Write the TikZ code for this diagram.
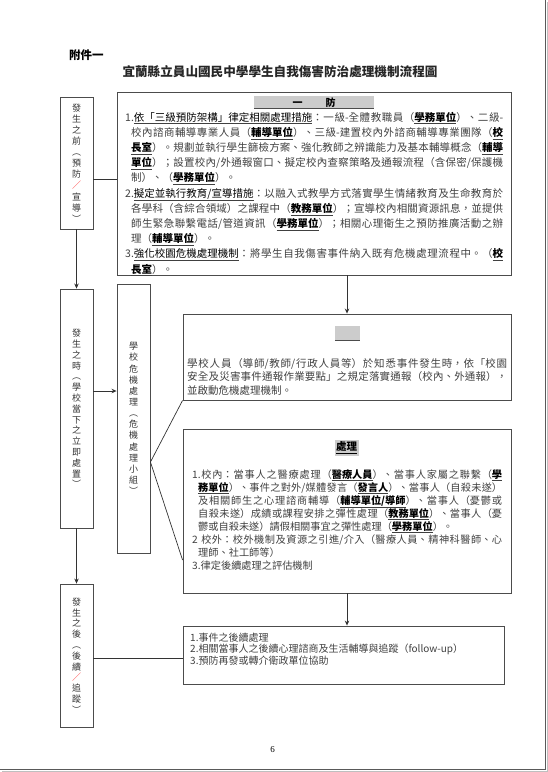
\documentclass[tikz,border=0pt]{standalone}
\usepackage{fontspec}
\setmainfont{Noto Sans CJK TC}
\newfontfamily\serifnum{Liberation Serif}
\usetikzlibrary{arrows.meta}
\XeTeXlinebreaklocale "zh"
\XeTeXlinebreakskip=0pt plus 2pt minus 0.3pt
\XeTeXlinebreakpenalty=10000
\tolerance=10000
\hbadness=10000
\newcommand{\ubd}[1]{\underline{\textbf{\color{black}#1}}}
\newcommand{\uln}[1]{\underline{\color{black}#1}}
\tikzset{
  box/.style={draw=black!70, line width=0.9pt, inner sep=0pt},
  side/.style={draw=black!70, line width=0.9pt, minimum width=33pt, inner sep=0pt, align=center, text=black!80},
  bodytxt/.style={anchor=north west, inner sep=0pt, text=black!75,
    execute at begin node={\parindent=0pt\leftskip=0pt\rightskip=0pt\parfillskip=0pt plus 1fil}},
  conn/.style={draw=black!80, line width=0.7pt},
  arr/.style={conn, -{Stealth[length=5pt,width=4.5pt]}},
  graybar/.style={fill=black!20, inner sep=0pt},
}
\begin{document}
\begin{tikzpicture}[x=1pt,y=-1pt]
\useasboundingbox (0,0) rectangle (547,772);
% page shadow
\draw[black!25, line width=1pt] (547,2) -- (547,771.2) -- (2,771.2);
\draw[black!65, line width=1.5pt] (545.5,0) -- (545.5,769.5) -- (0,769.5);

% header
\node[anchor=west, inner sep=0pt, font=\fontsize{11.5}{12}\selectfont\bfseries] (att) at (69,55) {附件一};
\node[inner sep=0pt, text=black!85, font=\fontsize{12.6}{14}\selectfont\bfseries] (title) at (280,72) {宜蘭縣立員山國民中學學生自我傷害防治處理機制流程圖};

% box 1
\node[box, minimum width=394pt, minimum height=183pt] (b1) at (314,183.5) {};
\node[graybar, minimum width=120pt, minimum height=12.5pt, font=\fontsize{10}{10}\selectfont\bfseries] (b1t) at (314,102.3) {一\hspace{23pt}防\hspace{31pt}};
\draw[black!70, line width=1pt] (b1t.south west) -- (b1t.south east);
\node[bodytxt, text width=378pt, font=\fontsize{10.5}{15.2}\selectfont] (t1) at (125,111.5) {%
\hangindent=6pt\hangafter=1\rule{0pt}{0.9em}1.\uln{依「三級預防架構」律定相關處理措施}：一級-全體教職員（\ubd{學務單位}）、二級-\linebreak
校內諮商輔導專業人員（\ubd{輔導單位}）、三級-建置校內外諮商輔導專業團隊（\ubd{校}\linebreak
\ubd{長室}）。規劃並執行學生篩檢方案、強化教師之辨識能力及基本輔導概念（\ubd{輔導}\linebreak
\ubd{單位}）；設置校內/外通報窗口、擬定校內查察策略及通報流程（含保密/保護機\linebreak
制）、（\ubd{學務單位}）。\par
\hangindent=6pt\hangafter=1 2.\uln{擬定並執行教育/宣導措施}：以融入式教學方式落實學生情緒教育及生命教育於\linebreak
各學科（含綜合領域）之課程中（\ubd{教務單位}）；宣導校內相關資源訊息，並提供\linebreak
師生緊急聯繫電話/管道資訊（\ubd{學務單位}）；相關心理衛生之預防推廣活動之辦\linebreak
理（\ubd{輔導單位}）。\par
\hangindent=6pt\hangafter=1 3.\uln{強化校園危機處理機制}：將學生自我傷害事件納入既有危機處理流程中。（\ubd{校}\linebreak
\ubd{長室}）。\par}; 

% box D (notification)
\node[box, minimum width=328pt, minimum height=86pt] (D) at (347,357) {};
\node[graybar, minimum width=25pt, minimum height=14pt] (Dt) at (347.5,333) {};
\draw[black!70, line width=1pt] (Dt.south west) -- (Dt.south east);
\node[bodytxt, text width=320pt, font=\fontsize{10.5}{13.5}\selectfont] (tD) at (187,357.5) {%
\rule{0pt}{0.9em}學校人員（導師/教師/行政人員等）於知悉事件發生時，依「校園\linebreak
安全及災害事件通報作業要點」之規定落實通報（校內、外通報），\linebreak
並啟動危機處理機制。\par};

% box E (handling)
\node[box, minimum width=328pt, minimum height=164pt] (E) at (347,511) {};
\node[graybar, inner sep=1.5pt, font=\fontsize{10.5}{11}\selectfont] (Et) at (346.5,448) {\ubd{處理}};
\node[bodytxt, text width=310pt, font=\fontsize{10.2}{13}\selectfont] (tE) at (192,468.7) {%
\hangindent=6pt\hangafter=1\rule{0pt}{0.9em}1.校內：當事人之醫療處理（\ubd{醫療人員}）、當事人家屬之聯繫（\ubd{學}\linebreak
\ubd{務單位}）、事件之對外/媒體發言（\ubd{發言人}）、當事人（自殺未遂）\linebreak
及相關師生之心理諮商輔導（\ubd{輔導單位/導師}）、當事人（憂鬱或\linebreak
自殺未遂）成績或課程安排之彈性處理（\ubd{教務單位}）、當事人（憂\linebreak
鬱或自殺未遂）請假相關事宜之彈性處理（\ubd{學務單位}）。\par
\hangindent=6pt\hangafter=1 2 校外：校外機制及資源之引進/介入（醫療人員、精神科醫師、心\linebreak
理師、社工師等）\par
3.律定後續處理之評估機制\par};

% box F (follow-up)
\node[box, minimum width=321pt, minimum height=58pt] (F) at (343.5,655) {};
\node[anchor=north west, inner sep=0pt, align=left, text=black!75, font=\fontsize{10}{11.7}\selectfont] (tF) at (190,631.8) {%
\rule{0pt}{0.9em}1.事件之後續處理\\2.相關當事人之後續心理諮商及生活輔導與追蹤（follow-up）\\3.預防再發或轉介衛政單位協助};

% side boxes
\node[side, minimum height=132pt, font=\fontsize{9}{11.1}\selectfont] (A) at (76.5,163) {發\\生\\之\\前\\︵\\預\\防\\{\color{red!80}／}\\宣\\導\\︶};
\node[side, minimum height=239pt, font=\fontsize{9}{10.8}\selectfont] (B) at (76.5,408.5) {發\\生\\之\\時\\︵\\學\\校\\當\\下\\之\\立\\即\\處\\置\\︶};
\node[side, minimum height=269pt, font=\fontsize{9}{11.15}\selectfont] (C) at (133.5,418.5) {學\\校\\危\\機\\處\\理\\︵\\危\\機\\處\\理\\小\\組\\︶};
\node[side, minimum height=143pt, font=\fontsize{9}{10.8}\selectfont] (G) at (76.5,655.5) {發\\生\\之\\後\\︵\\後\\續\\{\color{red!80}／}\\追\\蹤\\︶};

% connectors
\coordinate (yA) at (0,179);
\draw[conn] (A.east |- yA) -- (b1.west |- yA);
\draw[arr] (A.south) -- (B.north);
\coordinate (yB) at (0,391);
\draw[arr] (B.east |- yB) -- (C.west |- yB);
\draw[arr] (B.south) -- (G.north);
\draw[arr] (b1.south -| D.north) -- (D.north);
\coordinate (yC) at (0,462);
\coordinate (yE) at (0,560);
\draw[conn] (C.east |- yC) -- (D.south west);
\draw[conn] (C.east |- yC) -- (E.west |- yE);
\draw[arr] (E.south) -- (E.south |- F.north);
\coordinate (yG) at (0,658);
\draw[conn] (G.east |- yG) -- (F.west |- yG);

% page number
\node[inner sep=0pt, font=\serifnum\fontsize{9}{9}\selectfont] (pg) at (272.5,750) {6};
\end{tikzpicture}
\end{document}
